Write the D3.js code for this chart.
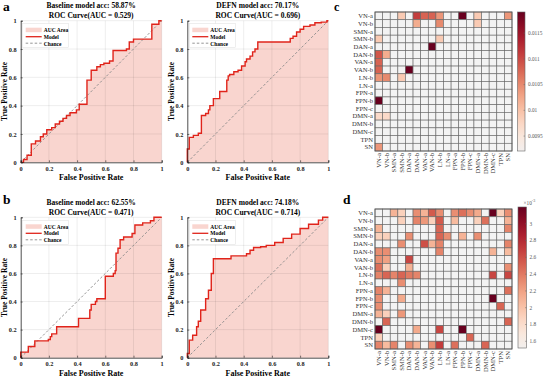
<!DOCTYPE html>
<html>
<head>
<meta charset="utf-8">
<script src="https://cdn.jsdelivr.net/npm/d3@7"></script>
<style>
  body { margin: 0; background: #fff; }
  svg text { font-family: "Liberation Serif", "Times New Roman", serif; }
</style>
</head>
<body>
<svg id="chart" width="546" height="378"></svg>
<script>
// ROC curves: [fpr, tpr] at each step (curve goes right, then up)
var rocBaseA = [[0,0],[0.02,0.02],[0.045,0.05],[0.075,0.13],[0.105,0.15],[0.14,0.18],[0.16,0.2],[0.185,0.23],
  [0.22,0.245],[0.245,0.27],[0.275,0.29],[0.3,0.31],[0.325,0.33],[0.35,0.35],[0.395,0.37],[0.415,0.41],
  [0.47,0.58],[0.5,0.65],[0.54,0.675],[0.565,0.69],[0.59,0.7],[0.63,0.715],[0.655,0.79],[0.75,0.8],
  [0.77,0.85],[0.8,0.87],[0.93,0.975],[0.98,1],[1,1]];
var rocDefnA = [[0,0],[0,0.094],[0.014,0.176],[0.043,0.19],[0.078,0.205],[0.1,0.33],[0.13,0.345],[0.15,0.37],
  [0.16,0.4],[0.185,0.45],[0.23,0.5],[0.28,0.58],[0.29,0.61],[0.3,0.62],[0.33,0.64],[0.36,0.65],
  [0.385,0.68],[0.41,0.71],[0.42,0.73],[0.445,0.75],[0.463,0.78],[0.48,0.8],[0.5,0.85],[0.73,0.875],
  [0.75,0.89],[0.775,0.92],[0.8,0.94],[0.825,0.96],[0.87,0.97],[0.905,0.985],[0.95,0.99],[0.99,1],[1,1]];
var rocBaseB = [[0,0],[0,0.04],[0.054,0.08],[0.1,0.12],[0.196,0.13],[0.21,0.15],[0.22,0.17],[0.255,0.22],
  [0.41,0.28],[0.49,0.34],[0.5,0.38],[0.53,0.4],[0.54,0.42],[0.6,0.58],[0.657,0.6],[0.67,0.62],
  [0.676,0.745],[0.69,0.78],[0.705,0.84],[0.73,0.86],[0.79,0.885],[0.81,0.945],[0.865,0.96],
  [0.92,0.975],[0.945,1],[1,1]];
var rocDefnB = [[0,0],[0,0.03],[0.014,0.125],[0.038,0.16],[0.066,0.22],[0.078,0.26],[0.095,0.34],[0.13,0.42],
  [0.15,0.48],[0.17,0.6],[0.185,0.705],[0.31,0.725],[0.42,0.74],[0.445,0.765],[0.47,0.785],[0.52,0.79],
  [0.56,0.8],[0.62,0.82],[0.68,0.85],[0.74,0.88],[0.8,0.92],[0.86,0.95],[0.93,0.98],[0.96,1],[1,1]];

var rocTitles = [
  ["Baseline model acc: 58.87%", "ROC Curve(AUC = 0.529)"],
  ["DEFN model acc: 70.17%", "ROC Curve(AUC = 0.696)"],
  ["Baseline model acc: 62.55%", "ROC Curve(AUC = 0.471)"],
  ["DEFN model acc: 74.18%", "ROC Curve(AUC = 0.714)"]
];
var rocTicks = [0, 0.2, 0.4, 0.6, 0.8, 1];
var legendLabels = ["AUC Area", "Model", "Chance"];

// brain network labels (rows and columns of heatmaps)
var networks = ["VN-a","VN-b","SMN-a","SMN-b","DAN-a","DAN-b","VAN-a","VAN-b","LN-b","LN-a",
  "FPN-a","FPN-b","FPN-c","DMN-a","DMN-b","DMN-c","TPN","SN"];

// heatmap c: [row, col, value], empty cells are below the colour range
var cellsC = [[0,3,0.0099],[0,5,0.0111],[0,6,0.0108],[0,7,0.0108],[0,8,0.0104],[0,11,0.0119],[0,13,0.0099],[0,17,0.0104],
  [1,5,0.0102],[1,8,0.0105],[1,13,0.0099],[3,0,0.0099],[3,8,0.0099],[4,7,0.0119],[5,0,0.0109],[5,1,0.0102],
  [6,0,0.0108],[7,0,0.0108],[7,4,0.0119],[8,0,0.0104],[8,1,0.0105],[8,3,0.0099],[11,0,0.0119],
  [13,0,0.0097],[13,1,0.0097],[17,0,0.0104]];
var rangeC = [0.00921, 0.01191];
var ticksC = [0.0095, 0.01, 0.0105, 0.011, 0.0115];
var tickLabelsC = ["0.0095", "0.01", "0.0105", "0.011", "0.0115"];

// heatmap d: values in units of 1e-3
var cellsD = [[0,2,2.1],[0,3,1.9],[0,5,2.3],[0,6,2.1],[0,7,2.55],[0,8,2.3],[0,10,2.3],[0,11,2.45],[0,12,2.3],[0,13,2.15],[0,15,3.2],[0,16,1.9],[0,17,2.3],
  [1,3,1.9],[1,5,2.35],[1,6,2.25],[1,7,1.9],[1,8,2.55],[1,10,2.05],[1,13,1.9],[1,14,2.45],[1,17,2.1],
  [2,0,2.1],[2,8,2.5],[2,17,2.35],
  [3,0,1.9],[3,1,1.9],[3,4,2.3],[3,8,2.5],[3,9,2.3],[3,11,2.1],[3,13,2.3],
  [4,3,2.3],[4,6,2.6],[4,7,2.1],[4,8,2.35],[4,17,2.35],
  [5,0,2.3],[5,1,2.3],[5,8,2.35],[5,15,2.1],[5,17,2.05],
  [6,0,2.3],[6,1,2.2],[6,4,2.65],
  [7,0,2.45],[7,1,1.9],[7,4,2.1],[7,17,2.3],
  [8,0,2.35],[8,1,2.5],[8,2,2.35],[8,3,2.5],[8,4,2.4],[8,5,2.35],[8,15,2.65],[8,17,2.65],
  [9,3,2.3],
  [10,0,2.35],[10,1,2.1],[10,17,2.45],
  [11,0,2.3],[11,3,2.15],[11,15,3.2],
  [12,0,2.3],[12,16,2.5],
  [13,0,2.1],[13,1,1.9],[13,3,2.25],
  [14,1,2.5],[14,17,2.5],
  [15,0,3.2],[15,5,2.15],[15,8,2.65],[15,11,3.2],
  [16,0,1.9],[16,12,2.5],
  [17,0,2.35],[17,1,2.05],[17,2,2.35],[17,4,2.3],[17,5,2.1],[17,7,2.3],[17,8,2.7],[17,10,2.45],[17,14,2.5]];
var rangeD = [1.52, 3.2];
var ticksD = [1.6, 1.8, 2, 2.2, 2.4, 2.6, 2.8, 3];
var tickLabelsD = ["1.6", "1.8", "2", "2.2", "2.4", "2.6", "2.8", "3"];

var svg = d3.select("#chart");

var fillPink = "#f9d5cf", lineRed = "#e0241b";

function drawRoc(data, titles, box) {
  var x = d3.scaleLinear().domain([0, 1]).range([box.x0, box.x1]);
  var y = d3.scaleLinear().domain([0, 1]).range([box.y0, box.y1]);
  var g = svg.append("g");

  g.append("path").datum(data)
    .attr("d", d3.area().curve(d3.curveStepAfter)
      .x(function(d){ return x(d[0]); }).y0(y(0)).y1(function(d){ return y(d[1]); }))
    .attr("fill", fillPink);

  // grid
  rocTicks.forEach(function(t){
    if (t === 0) return;
    g.append("line").attr("x1", x(t)).attr("x2", x(t)).attr("y1", y(0)).attr("y2", y(1))
      .attr("stroke", "#000").attr("stroke-opacity", 0.12).attr("stroke-width", 0.6);
    g.append("line").attr("x1", x(0)).attr("x2", x(1)).attr("y1", y(t)).attr("y2", y(t))
      .attr("stroke", "#000").attr("stroke-opacity", 0.12).attr("stroke-width", 0.6);
  });

  g.append("line").attr("x1", x(0)).attr("y1", y(0)).attr("x2", x(1)).attr("y2", y(1))
    .attr("stroke", "#8a8a8a").attr("stroke-width", 0.9).attr("stroke-dasharray", "2.5,2");

  g.append("path").datum(data)
    .attr("d", d3.line().curve(d3.curveStepAfter)
      .x(function(d){ return x(d[0]); }).y(function(d){ return y(d[1]); }))
    .attr("fill", "none").attr("stroke", lineRed).attr("stroke-width", 1.4);

  var fmt = function(d){ return (d === 0 || d === 1) ? String(d) : d.toFixed(1); };
  var xa = g.append("g").attr("transform", "translate(0," + y(0) + ")")
    .call(d3.axisBottom(x).tickValues(rocTicks).tickFormat(fmt).tickSize(-2).tickPadding(4));
  var ya = g.append("g").attr("transform", "translate(" + x(0) + ",0)")
    .call(d3.axisLeft(y).tickValues(rocTicks).tickFormat(fmt).tickSize(-2).tickPadding(4));
  [xa, ya].forEach(function(a){
    a.select(".domain").attr("stroke", "#222").attr("stroke-width", 0.8);
    a.selectAll(".tick line").attr("stroke", "#222").attr("stroke-width", 0.6);
    a.selectAll("text").attr("font-size", 6.3).attr("font-weight", "bold")
      .attr("fill", "#222").style("font-family", "'Liberation Serif', serif");
  });

  var cx = (box.x0 + box.x1) / 2;
  g.append("text").attr("x", cx).attr("y", box.y1 - 12.5).attr("text-anchor", "middle")
    .attr("font-size", 7.5).attr("font-weight", "bold").text(titles[0]);
  g.append("text").attr("x", cx).attr("y", box.y1 - 2.5).attr("text-anchor", "middle")
    .attr("font-size", 7.5).attr("font-weight", "bold").text(titles[1]);
  g.append("text").attr("x", cx).attr("y", box.y0 + 18).attr("text-anchor", "middle")
    .attr("font-size", 8).attr("font-weight", "bold").text("False Positive Rate");
  g.append("text").attr("transform", "translate(" + (box.x0 - 13.5) + "," + ((box.y0 + box.y1) / 2) + ") rotate(-90)")
    .attr("text-anchor", "middle").attr("font-size", 7.5).attr("font-weight", "bold").text("True Positive Rate");

  // legend
  var lx = box.x0 + 2, ly = box.y1 + 3;
  var lg = g.append("g");
  lg.append("rect").attr("x", lx).attr("y", ly).attr("width", 46).attr("height", 24)
    .attr("fill", "#fff").attr("stroke", "#ddd").attr("stroke-width", 0.5);
  lg.append("rect").attr("x", lx + 3).attr("y", ly + 4).attr("width", 16).attr("height", 4.5).attr("fill", fillPink);
  lg.append("line").attr("x1", lx + 3).attr("x2", lx + 19).attr("y1", ly + 13).attr("y2", ly + 13)
    .attr("stroke", lineRed).attr("stroke-width", 1.3);
  lg.append("line").attr("x1", lx + 3).attr("x2", lx + 19).attr("y1", ly + 19.5).attr("y2", ly + 19.5)
    .attr("stroke", "#8a8a8a").attr("stroke-width", 0.9).attr("stroke-dasharray", "2.5,2");
  legendLabels.forEach(function(t, i){
    lg.append("text").attr("x", lx + 21).attr("y", ly + 8.3 + i * 6.8)
      .attr("font-size", 5.5).attr("font-weight", "bold").text(t);
  });
}

drawRoc(rocBaseA, rocTitles[0], {x0: 20.7, x1: 161.7, y0: 162.3, y1: 20.7});
drawRoc(rocDefnA, rocTitles[1], {x0: 187.3, x1: 328.3, y0: 162.3, y1: 20.7});
drawRoc(rocBaseB, rocTitles[2], {x0: 20.7, x1: 161.7, y0: 357.7, y1: 217.3});
drawRoc(rocDefnB, rocTitles[3], {x0: 187.3, x1: 328.3, y0: 357.7, y1: 217.3});

function drawHeat(cells, range, ticks, tickLabels, box, bar, expLabel) {
  var color = d3.scaleSequential(function(t){ return d3.interpolateRdBu(0.5 - 0.5 * t); })
    .domain(range).clamp(true);
  var x = d3.scaleBand().domain(d3.range(networks.length)).range([box.x0, box.x1]);
  var y = d3.scaleBand().domain(d3.range(networks.length)).range([box.y0, box.y1]);
  var g = svg.append("g");
  var lookup = {};
  cells.forEach(function(c){ lookup[c[0] + "_" + c[1]] = c[2]; });
  var grid = [];
  networks.forEach(function(r, i){
    networks.forEach(function(c, j){
      var v = lookup[i + "_" + j];
      grid.push({r: i, c: j, v: v});
    });
  });
  g.selectAll("rect.cell").data(grid).enter().append("rect")
    .attr("x", function(d){ return x(d.c); }).attr("y", function(d){ return y(d.r); })
    .attr("width", x.bandwidth()).attr("height", y.bandwidth())
    .attr("fill", function(d){ return d.v === undefined ? "#f3f3f3" : color(d.v); })
    .attr("stroke", "#666").attr("stroke-width", 0.6);
  g.append("rect").attr("x", box.x0).attr("y", box.y0).attr("width", box.x1 - box.x0).attr("height", box.y1 - box.y0)
    .attr("fill", "none").attr("stroke", "#555").attr("stroke-width", 0.8);

  g.selectAll("text.row").data(networks).enter().append("text")
    .attr("x", box.x0 - 2).attr("y", function(d, i){ return y(i) + y.bandwidth() / 2 + 2.2; })
    .attr("text-anchor", "end").attr("font-size", 6.6).attr("fill", "#333").text(function(d){ return d; });
  g.selectAll("text.col").data(networks).enter().append("text")
    .attr("transform", function(d, i){
      return "translate(" + (x(i) + x.bandwidth() / 2 + 2.2) + "," + (box.y1 + 2) + ") rotate(-90)";
    })
    .attr("text-anchor", "end").attr("font-size", 6.6).attr("fill", "#333").text(function(d){ return d; });

  // colorbar
  var cy = d3.scaleLinear().domain(range).range([bar.y1, bar.y0]);
  var defsId = "grad" + Math.round(box.y0);
  var grad = svg.append("defs").append("linearGradient").attr("id", defsId)
    .attr("x1", 0).attr("x2", 0).attr("y1", 1).attr("y2", 0);
  d3.range(0, 1.0001, 0.1).forEach(function(t){
    grad.append("stop").attr("offset", t).attr("stop-color", d3.interpolateRdBu(0.5 - 0.5 * t));
  });
  g.append("rect").attr("x", bar.x0).attr("y", bar.y0).attr("width", bar.x1 - bar.x0).attr("height", bar.y1 - bar.y0)
    .attr("fill", "url(#" + defsId + ")").attr("stroke", "#666").attr("stroke-width", 0.6);
  ticks.forEach(function(t, i){
    g.append("line").attr("x1", bar.x1 - 1.5).attr("x2", bar.x1).attr("y1", cy(t)).attr("y2", cy(t))
      .attr("stroke", "#666").attr("stroke-width", 0.5);
    g.append("text").attr("x", bar.x1 + 3).attr("y", cy(t) + 1.8)
      .attr("font-size", 5.3).attr("fill", "#555").text(tickLabels[i]);
  });
  if (expLabel) {
    var t = g.append("text").attr("x", bar.x1 - 3).attr("y", bar.y0 - 2.5).attr("font-size", 5.3).attr("fill", "#555");
    t.append("tspan").text("\u00d710");
    t.append("tspan").attr("dy", -2.2).attr("font-size", 4).text("-3");
  }
}

drawHeat(cellsC, rangeC, ticksC, tickLabelsC, {x0: 375, x1: 512, y0: 12, y1: 151},
  {x0: 517.5, x1: 525, y0: 12, y1: 151}, false);
drawHeat(cellsD, rangeD, ticksD, tickLabelsD, {x0: 375, x1: 512, y0: 209, y1: 349},
  {x0: 518, x1: 526.5, y0: 207, y1: 348}, true);

// panel letters
[["a", 3, 11, 13.5], ["b", 3, 204, 13.5], ["c", 334, 10.8, 12], ["d", 343, 204, 13.5]].forEach(function(p){
  svg.append("text").attr("x", p[1]).attr("y", p[2]).attr("font-size", p[3]).attr("font-weight", "bold").text(p[0]);
});
</script>
</body>
</html>
